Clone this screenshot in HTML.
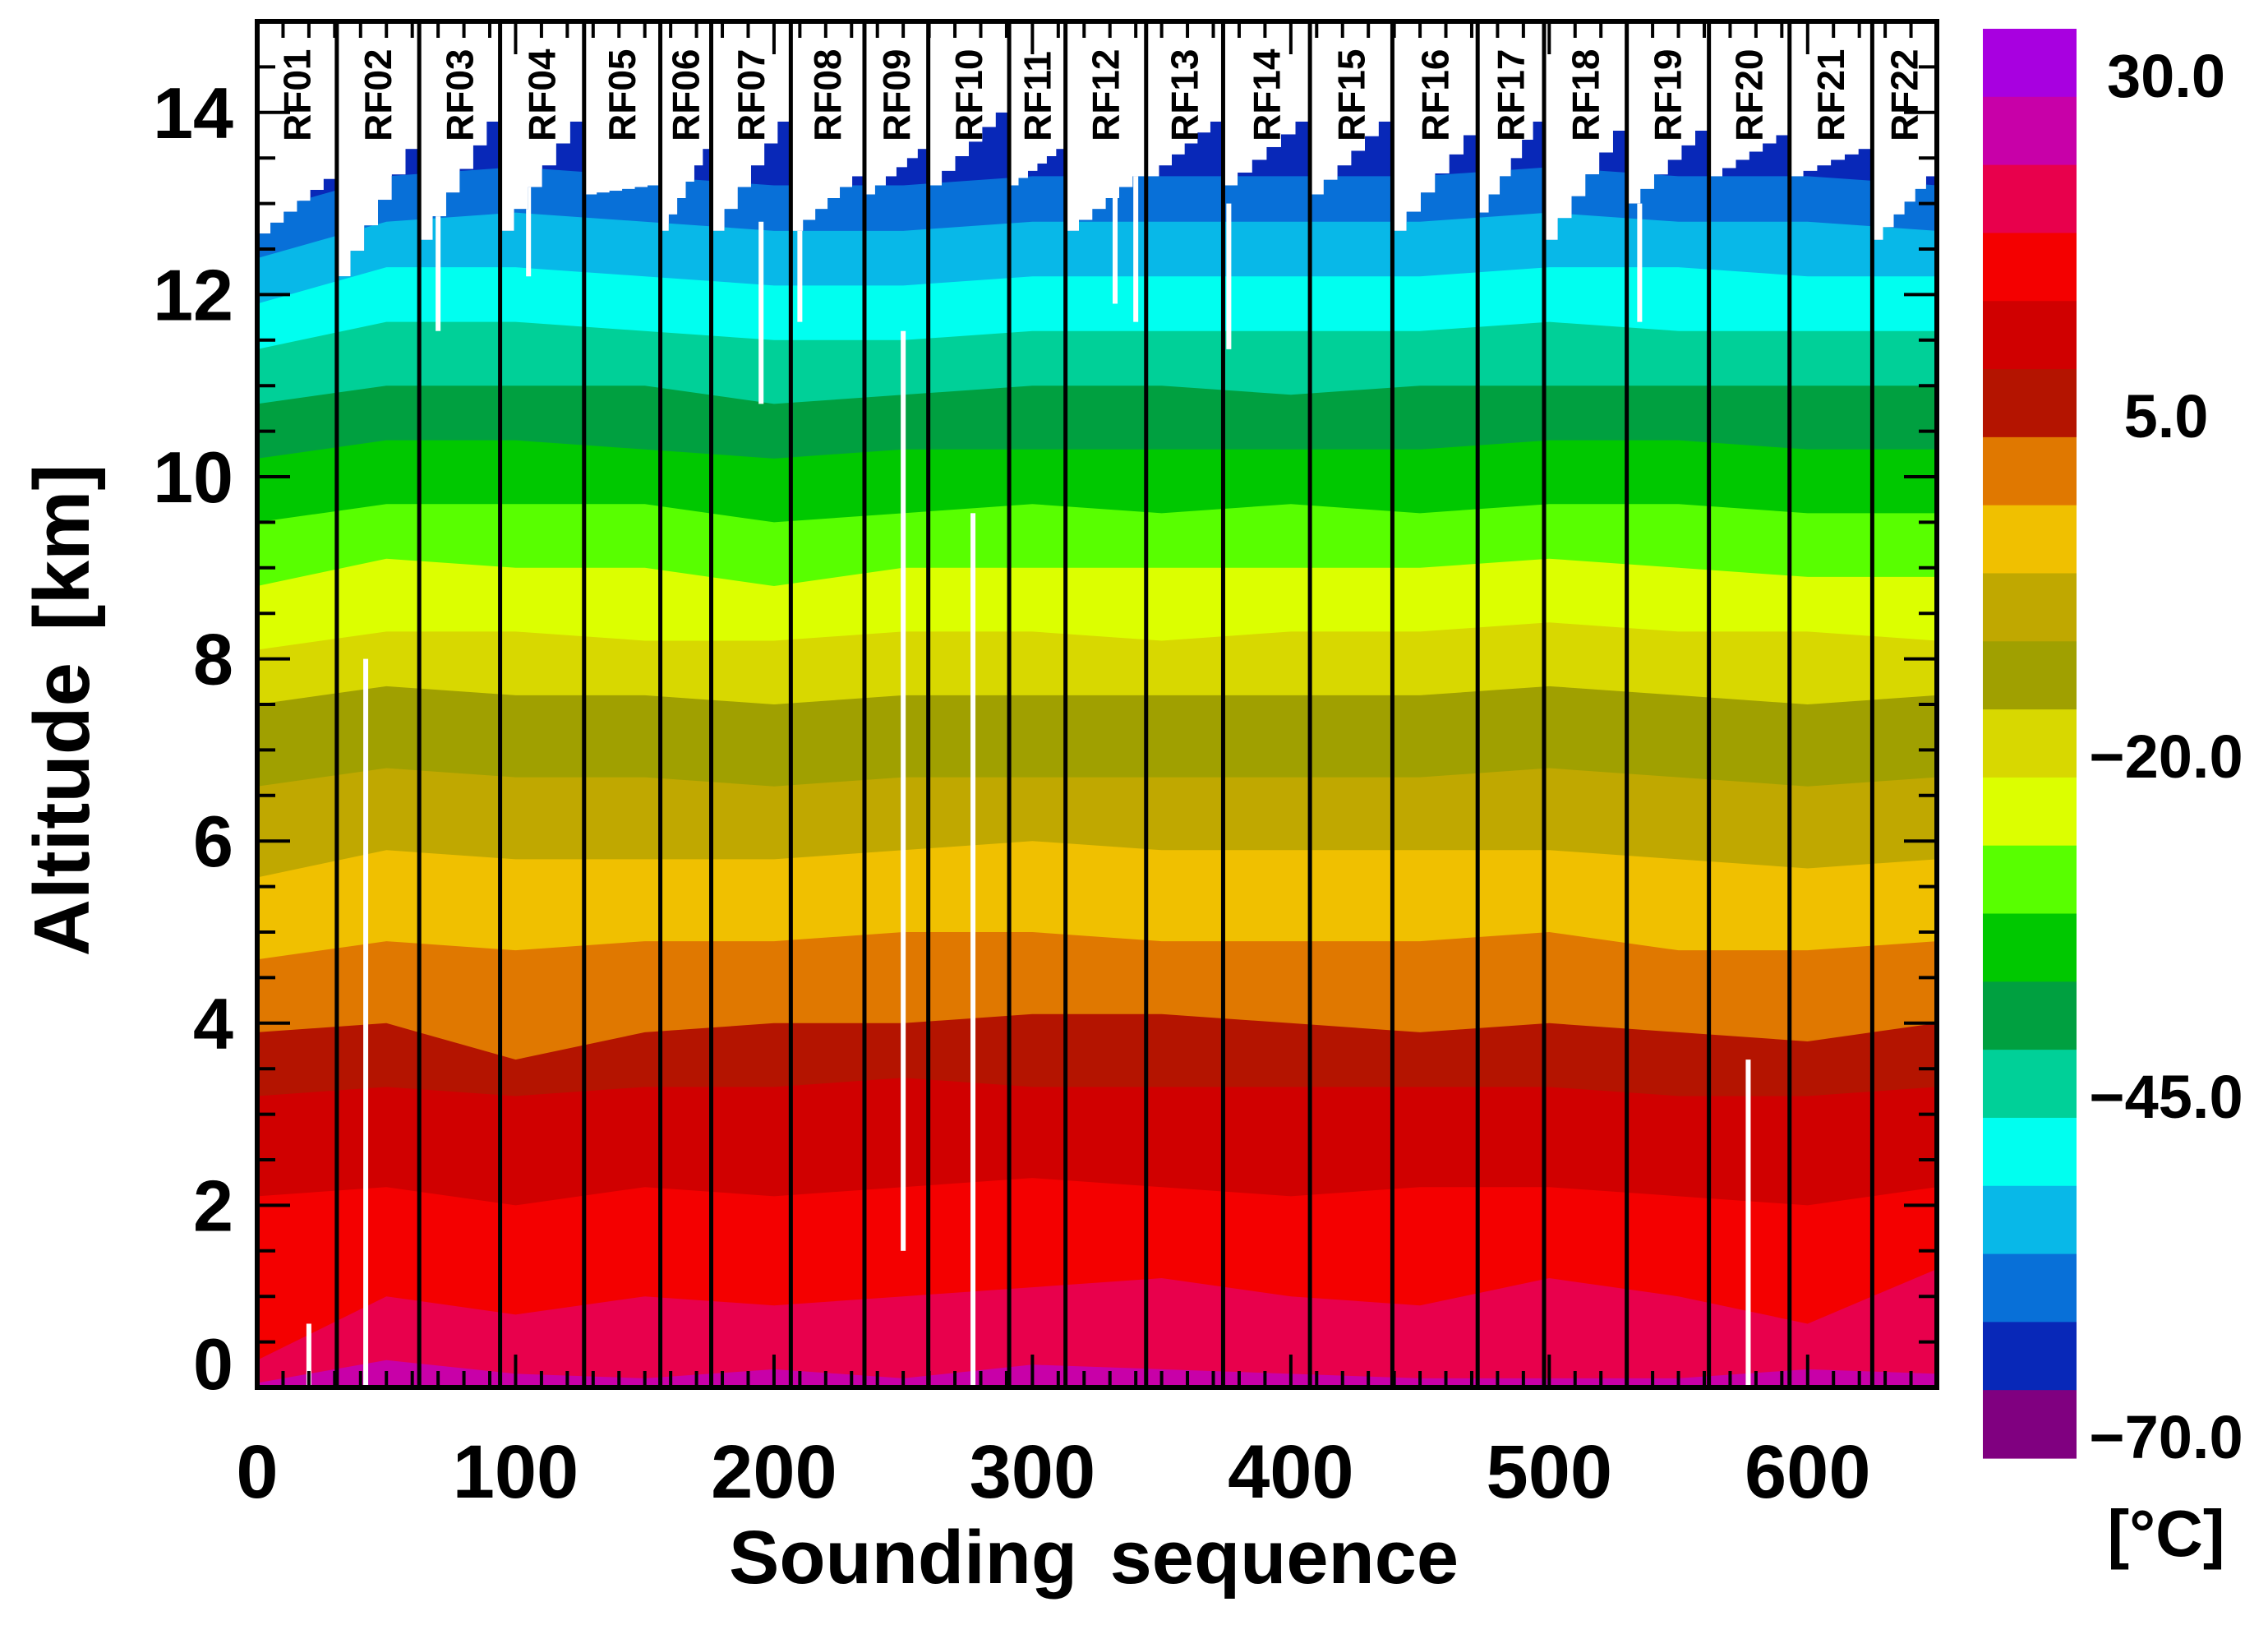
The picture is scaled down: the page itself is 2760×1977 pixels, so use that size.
<!DOCTYPE html>
<html><head><meta charset="utf-8">
<style>
html,body{margin:0;padding:0;background:#fff;}
svg{display:block;}
text{font-family:"Liberation Sans",sans-serif;font-weight:bold;fill:#000;}
</style></head>
<body>
<svg id="chart" width="2760" height="1977" viewBox="0 0 2760 1977" xmlns="http://www.w3.org/2000/svg">
<defs><clipPath id="ceilClip"><path id="ceilClipPath" d=""/></clipPath></defs>
<g id="plot" clip-path="url(#ceilClip)"></g>
<g id="over"></g>
<g id="axes"></g>
<g id="cbar"></g>
</svg>
<script>
// ---- data ----
const samplePts = [0,50,100,150,200,250,300,350,400,450,500,550,600,650];
const bandColors = ["#C800A8","#E8004C","#F40000","#D00000","#B41400","#E07800","#F0C000","#C0A800","#A0A000","#D8D800","#DCFF00","#58FF00","#00C800","#00A040","#00D098","#00FFF0","#08B8E8","#0870D8"];
const b0  = [0.05,0.3,0.15,0.1,0.2,0.1,0.25,0.2,0.15,0.1,0.1,0.1,0.2,0.15];
const b1  = [0.3,1.0,0.8,1.0,0.9,1.0,1.1,1.2,1.0,0.9,1.2,1.0,0.7,1.3];
const b2  = [2.1,2.2,2.0,2.2,2.1,2.2,2.3,2.2,2.1,2.2,2.2,2.1,2.0,2.2];
const b3  = [3.2,3.3,3.2,3.3,3.3,3.4,3.3,3.3,3.3,3.3,3.3,3.2,3.2,3.3];
const b4  = [3.9,4.0,3.6,3.9,4.0,4.0,4.1,4.1,4.0,3.9,4.0,3.9,3.8,4.0];
const b5  = [4.7,4.9,4.8,4.9,4.9,5.0,5.0,4.9,4.9,4.9,5.0,4.8,4.8,4.9];
const b6  = [5.6,5.9,5.8,5.8,5.8,5.9,6.0,5.9,5.9,5.9,5.9,5.8,5.7,5.8];
const b7  = [6.6,6.8,6.7,6.7,6.6,6.7,6.7,6.7,6.7,6.7,6.8,6.7,6.6,6.7];
const b8  = [7.5,7.7,7.6,7.6,7.5,7.6,7.6,7.6,7.6,7.6,7.7,7.6,7.5,7.6];
const b9  = [8.1,8.3,8.3,8.2,8.2,8.3,8.3,8.2,8.3,8.3,8.4,8.3,8.3,8.2];
const b10 = [8.8,9.1,9.0,9.0,8.8,9.0,9.0,9.0,9.0,9.0,9.1,9.0,8.9,8.9];
const b11 = [9.5,9.7,9.7,9.7,9.5,9.6,9.7,9.6,9.7,9.6,9.7,9.7,9.6,9.6];
const b12 = [10.2,10.4,10.4,10.3,10.2,10.3,10.3,10.3,10.3,10.3,10.4,10.4,10.3,10.3];
const b13 = [10.8,11.0,11.0,11.0,10.8,10.9,11.0,11.0,10.9,11.0,11.0,11.0,11.0,11.0];
const b14 = [11.4,11.7,11.7,11.6,11.5,11.5,11.6,11.6,11.6,11.6,11.7,11.6,11.6,11.6];
const b15 = [11.9,12.3,12.3,12.2,12.1,12.1,12.2,12.2,12.2,12.2,12.3,12.3,12.2,12.2];
const b16 = [12.4,12.8,12.9,12.8,12.7,12.7,12.8,12.8,12.8,12.8,12.9,12.8,12.8,12.7];
const b17 = [12.9,13.3,13.4,13.3,13.2,13.2,13.3,13.3,13.3,13.3,13.4,13.3,13.3,13.2];
const flightEdges = [0,30.8,62.7,94,126.5,156,175.7,206.5,235,259.7,291,312.8,344,373.8,407.4,439.3,472.3,498,530,561.8,593,625,650];
const flightNames = ["RF01","RF02","RF03","RF04","RF05","RF06","RF07","RF08","RF09","RF10","RF11","RF12","RF13","RF14","RF15","RF16","RF17","RF18","RF19","RF20","RF21","RF22"];
const ceilStart = [12.67,12.2,12.6,12.7,13.1,12.7,12.7,12.7,13.1,13.2,13.2,12.7,13.3,13.2,13.1,12.7,12.9,12.6,13.0,13.3,13.3,12.6];
const ceilEnd   = [13.27,13.6,13.9,13.9,13.2,13.6,13.9,13.3,13.6,14.0,13.6,13.3,13.9,13.9,13.9,13.75,13.9,13.8,13.8,13.75,13.6,13.3];
const gapX   = [20,42,70,105,195,210,250,277,332,340,376,535,577];
const gapLo  = [0,0,11.6,12.2,10.8,11.7,1.5,0,11.9,11.7,11.4,11.7,0];
const gapHi  = [0.7,8.0,13.0,13.5,12.8,13.0,11.6,9.6,13.3,13.3,13.0,13.0,3.6];
const xTicks = [0,100,200,300,400,500,600];
const yTicks = [0,2,4,6,8,10,12,14];
const cbColors = ["#A800E0","#C800A8","#E8004C","#F40000","#D00000","#B41400","#E07800","#F0C000","#C0A800","#A0A000","#D8D800","#DCFF00","#58FF00","#00C800","#00A040","#00D098","#00FFF0","#08B8E8","#0870D8","#0828B8","#800080"];
const cbLabels = ["30.0","5.0","\u221220.0","\u221245.0","\u221270.0"];
const cbLabelBand = [0.7,5.7,10.7,15.7,20.7];

// ---- scales ----
const X0=313, X1=2357, Y0=1688, Y1=26, XMAX=650, YMAX=15;
const sx = v => X0 + (v/XMAX)*(X1-X0);
const sy = v => Y0 - (v/YMAX)*(Y0-Y1);
const NS="http://www.w3.org/2000/svg";
function mk(tag, attrs, parent){const e=document.createElementNS(NS,tag);for(const k in attrs)e.setAttribute(k,attrs[k]);parent.appendChild(e);return e;}
const plot=document.getElementById('plot'), over=document.getElementById('over'), axes=document.getElementById('axes'), cbar=document.getElementById('cbar');

// ceiling area (top band) and clip
let cp = `M${sx(0)},${sy(0)} `;
for(let i=0;i<flightNames.length;i++){
  const a=flightEdges[i], b=flightEdges[i+1], s=ceilStart[i], e=ceilEnd[i];
  const steps=6;
  for(let k=0;k<steps;k++){
    const xa=a+(b-a)*k/steps, xb=a+(b-a)*(k+1)/steps, h=s+(e-s)*k/(steps-1);
    cp+=`L${sx(xa)},${sy(h)} L${sx(xb)},${sy(h)} `;
  }
}
cp+=`L${sx(XMAX)},${sy(0)} Z`;
document.getElementById('ceilClipPath').setAttribute('d',cp);
const ceil=mk('path',{d:cp,fill:"#0828B8"},plot);



const bounds=[b0,b1,b2,b3,b4,b5,b6,b7,b8,b9,b10,b11,b12,b13,b14,b15,b16,b17];
for(let i=bounds.length-1;i>=0;i--){
  const arr=bounds[i];
  let d=`M${sx(0)},${sy(0)} `;
  for(let j=0;j<samplePts.length;j++) d+=`L${sx(samplePts[j])},${sy(arr[j])} `;
  d+=`L${sx(XMAX)},${sy(0)} Z`;
  const p=mk('path',{d:d,fill:bandColors[i]},plot);
  
  
}
for(let i=0;i<gapX.length;i++){
  const r=mk('rect',{x:sx(gapX[i])-3,y:sy(gapHi[i]),width:6,height:sy(gapLo[i])-sy(gapHi[i]),fill:"#fff"},plot);
  
  
}
// flight dividers and labels
for(let i=1;i<flightEdges.length-1;i++){
  const l=mk('line',{x1:sx(flightEdges[i]),x2:sx(flightEdges[i]),y1:Y1,y2:Y0,stroke:"#000","stroke-width":5},over);
  
  
}
for(let i=0;i<flightNames.length;i++){
  const cx=(sx(flightEdges[i])+sx(flightEdges[i+1]))/2+16;
  const t=mk('text',{x:0,y:0,transform:`translate(${cx},172) rotate(-90)`,"font-size":46,"font-weight":"normal"},over);
  t.textContent=flightNames[i];
  
  
}
// ticks
for(let v=0;v<=XMAX;v+=10){
  const len = v%100===0?40:20;
  mk('line',{x1:sx(v),x2:sx(v),y1:Y0,y2:Y0-len,stroke:"#000","stroke-width":4},axes);
  mk('line',{x1:sx(v),x2:sx(v),y1:Y1,y2:Y1+len,stroke:"#000","stroke-width":4},axes);
}
for(let v=0;v<=YMAX;v+=0.5){
  const len = v%2===0?40:22;
  mk('line',{x1:X0,x2:X0+len,y1:sy(v),y2:sy(v),stroke:"#000","stroke-width":4},axes);
  mk('line',{x1:X1,x2:X1-len,y1:sy(v),y2:sy(v),stroke:"#000","stroke-width":4},axes);
}
const frame=mk('rect',{x:X0,y:Y1,width:X1-X0,height:Y0-Y1,fill:"none",stroke:"#000","stroke-width":6},axes);


for(const v of xTicks){
  const t=mk('text',{x:sx(v),y:1822,"text-anchor":"middle","font-size":92},axes);
  t.textContent=v;
  
  
}
for(const v of yTicks){
  const t=mk('text',{x:284,y:v===0?1690:sy(v)+31,"text-anchor":"end","font-size":88},axes);
  t.textContent=v;
  
  
}
const xt=mk('text',{x:1331,y:1926,"text-anchor":"middle","font-size":92,"word-spacing":"14"},axes);
xt.textContent="Sounding sequence";


const yt=mk('text',{x:0,y:0,transform:"translate(108,864) rotate(-90)","text-anchor":"middle","font-size":96,"word-spacing":"12"},axes);
yt.textContent="Altitude [km]";



// colorbar
const CBX=2413, CBW=114, CBT=35, CBB=1774, bh=(CBB-CBT)/cbColors.length;
for(let i=0;i<cbColors.length;i++){
  const r=mk('rect',{x:CBX,y:CBT+i*bh,width:CBW,height:bh+0.6,fill:cbColors[i]},cbar);
  
  
}
for(let i=0;i<cbLabels.length;i++){
  const t=mk('text',{x:2636,y:CBT+cbLabelBand[i]*bh+25,"text-anchor":"middle","font-size":74},cbar);
  t.textContent=cbLabels[i];
  
  
}
const unit=mk('text',{x:2636,y:1893,"text-anchor":"middle","font-size":80},cbar);
unit.textContent="[\u00B0C]";


</script>
</body></html>
